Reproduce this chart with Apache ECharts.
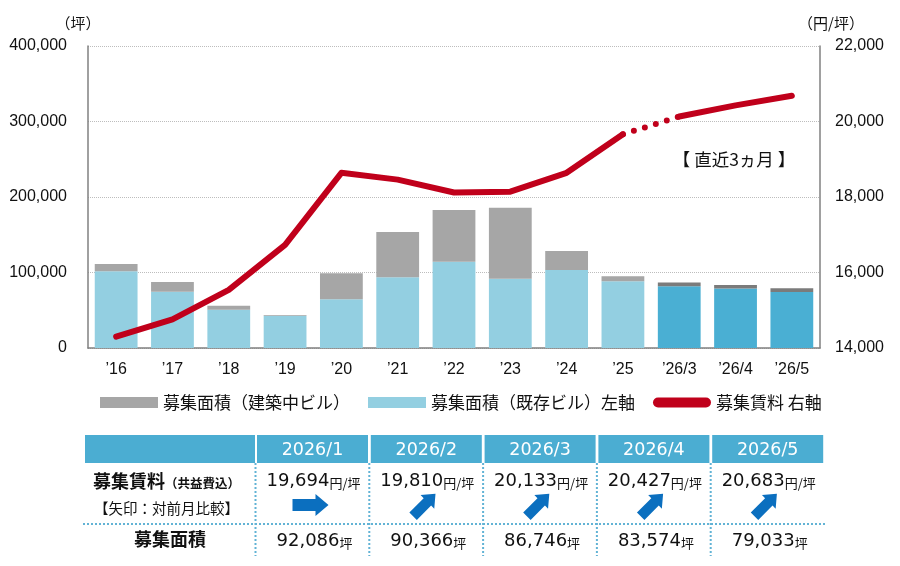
<!DOCTYPE html>
<html><head><meta charset="utf-8">
<script src="https://cdn.jsdelivr.net/npm/echarts@6/dist/echarts.min.js"></script>
<style>html,body{margin:0;padding:0;background:#fff}#c{width:900px;height:566px}</style>
</head><body><div id="c"></div>
<script>
// ---- data ----
const categories = ["’16","’17","’18","’19","’20","’21","’22","’23","’24","’25","’26/3","’26/4","’26/5"];
const existingArea = [101600, 74600, 50700, 42700, 64500, 93600, 114300, 91800, 103300, 88300, 81800, 78800, 74300];
const constructionArea = [9700, 12800, 5300, 1000, 34400, 60000, 68500, 94000, 25200, 6700, 4900, 4800, 4700];
const rent = [14300, 14760, 15540, 16730, 18640, 18460, 18120, 18140, 18640, 19660, 20133, 20427, 20683];
const recentStart = 10;
const leftTicks = {min: 0, max: 400000, interval: 100000};
const rightTicks = {min: 14000, max: 22000, interval: 2000};
const tableMonths = ["2026/1","2026/2","2026/3","2026/4","2026/5"];
const tableRent = [19694, 19810, 20133, 20427, 20683];
const tableArea = [92086, 90366, 86746, 83574, 79033];
const tableTrend = ["flat","up","up","up","up"];

// ---- styles ----
const C = {
  light: '#93cfe1', gray: '#a6a6a6', dark: '#4aafd3', darkGray: '#7b7b7b',
  red: '#c0001b', axis: '#808080', head: '#4badd2', arrow: '#0b6fbf', dot: '#62b3d5'
};
const JP = '"Noto Sans CJK JP", "Noto Sans", sans-serif';
const NUM = '"DejaVu Sans", "Noto Sans CJK JP", sans-serif';
const fmt = v => v.toLocaleString('en-US');

const chart = echarts.init(document.getElementById('c'), null, {renderer: 'canvas'});

const barExisting = existingArea.map((v, i) => ({value: v, itemStyle: {color: i >= recentStart ? C.dark : C.light}}));
const barConstr = constructionArea.map((v, i) => ({value: v, itemStyle: {color: i >= recentStart ? C.darkGray : C.gray}}));
const rentPast = rent.map((v, i) => i < recentStart ? v : null);
const rentRecent = rent.map((v, i) => i >= recentStart ? v : null);
const rentBridge = rent.map((v, i) => (i === recentStart - 1 || i === recentStart) ? v : null);

const RENT_NAME = '募集賃料 右軸';
const lineStyleBase = {color: C.red, width: 6, cap: 'round', join: 'round'};

// ---- table graphics ----
const g = [];
const tX = 85, labelW = 170, colX0 = 257, colStep = 113.8, colW = 111;
const headTop = 435, headH = 28;
const rentY = 479, arrowY = 505, sepY = 524, areaY = 539, tBottom = 556;
const valRich = {
  v: {font: '18px ' + NUM, fill: '#111', verticalAlign: 'bottom', lineHeight: 22},
  u: {font: '13px ' + JP, fill: '#111', verticalAlign: 'bottom', lineHeight: 19}
};
g.push({type: 'rect', shape: {x: tX, y: headTop, width: labelW, height: headH}, style: {fill: C.head}});
tableMonths.forEach((m, i) => {
  const x = colX0 + i * colStep;
  const cx = x + colW / 2;
  g.push({type: 'rect', shape: {x: x, y: headTop, width: colW, height: headH}, style: {fill: C.head}});
  g.push({type: 'text', x: cx, y: headTop + headH / 2 + 1, style: {text: m, fill: '#fff', font: '17.5px ' + NUM, align: 'center', verticalAlign: 'middle'}});
  g.push({type: 'text', x: cx + 1, y: rentY, style: {
    text: '{v|' + fmt(tableRent[i]) + '}{u|円/坪}', align: 'center', verticalAlign: 'middle', rich: valRich}});
  g.push({type: 'text', x: cx + 2, y: areaY, style: {
    text: '{v|' + fmt(tableArea[i]) + '}{u|坪}', align: 'center', verticalAlign: 'middle', rich: valRich}});
  const up = tableTrend[i] === 'up';
  g.push({type: 'polygon', x: cx - 2, y: arrowY, rotation: up ? Math.PI / 4 : 0, scaleX: up ? 0.88 : 1, scaleY: up ? 0.88 : 1,
    shape: {points: [[-18, -6], [5, -6], [5, -11], [18, 0], [5, 11], [5, 6], [-18, 6]]},
    style: {fill: C.arrow}});
  g.push({type: 'line', shape: {x1: x - 1.5, y1: headTop + headH, x2: x - 1.5, y2: tBottom}, style: {stroke: C.dot, lineWidth: 2, lineDash: [2, 2]}});
});
g.push({type: 'line', shape: {x1: 83, y1: sepY, x2: 826, y2: sepY}, style: {stroke: C.dot, lineWidth: 2, lineDash: [2, 2]}});
g.push({type: 'text', x: 93, y: rentY, style: {
  text: '{a|募集賃料}{b|（共益費込）}', align: 'left', verticalAlign: 'middle',
  rich: {a: {font: 'bold 18px ' + JP, fill: '#111', verticalAlign: 'bottom', lineHeight: 22}, b: {font: 'bold 12.5px ' + JP, fill: '#111', verticalAlign: 'bottom', lineHeight: 20}}}});
g.push({type: 'text', x: 94, y: 508, style: {text: '【矢印：対前月比較】', font: '14.5px ' + JP, fill: '#111', align: 'left', verticalAlign: 'middle'}});
g.push({type: 'text', x: tX + labelW / 2, y: areaY, style: {text: '募集面積', font: 'bold 18px ' + JP, fill: '#111', align: 'center', verticalAlign: 'middle'}});
// units & annotation
g.push({type: 'text', x: 78, y: 23, style: {text: '（坪）', font: '15px ' + JP, fill: '#111', align: 'center', verticalAlign: 'middle'}});
g.push({type: 'text', x: 831, y: 23, style: {text: '（円/坪）', font: '15px ' + JP, fill: '#111', align: 'center', verticalAlign: 'middle'}});
g.push({type: 'text', x: 734, y: 159, style: {text: '【 直近3ヵ月 】', font: '17.5px ' + JP, fill: '#111', align: 'center', verticalAlign: 'middle'}});

const option = {
  animation: false,
  backgroundColor: '#fff',
  grid: {left: 88, right: 80, top: 46, bottom: 218},
  legend: {
    left: 95, top: 389, itemGap: 18, itemWidth: 58, itemHeight: 11,
    textStyle: {fontFamily: JP, fontSize: 17, color: '#111'},
    data: [
      {name: '募集面積（建築中ビル）', icon: 'rect', itemStyle: {color: C.gray}},
      {name: '募集面積（既存ビル）左軸', icon: 'rect', itemStyle: {color: C.light}},
      {name: RENT_NAME, icon: 'path://M5,0 L53,0 A5,5 0 0 1 53,10 L5,10 A5,5 0 0 1 5,0 Z', itemStyle: {color: C.red}}
    ]
  },
  xAxis: {
    type: 'category', data: categories,
    axisLine: {lineStyle: {color: C.axis, width: 1.5}},
    axisTick: {show: false},
    axisLabel: {color: '#111', fontSize: 16, fontFamily: '"Liberation Sans", Arial, sans-serif', margin: 14}
  },
  yAxis: [
    {type: 'value', min: leftTicks.min, max: leftTicks.max, interval: leftTicks.interval,
     axisLine: {show: true, lineStyle: {color: C.axis, width: 1.5}}, axisTick: {show: false},
     splitLine: {lineStyle: {type: 'dotted', color: '#bdbdbd'}},
     axisLabel: {formatter: fmt, color: '#111', fontSize: 16, fontFamily: '"Liberation Sans", Arial, sans-serif', margin: 21}},
    {type: 'value', position: 'right', min: rightTicks.min, max: rightTicks.max, interval: rightTicks.interval,
     axisLine: {show: true, lineStyle: {color: C.axis, width: 1.5}}, axisTick: {show: false},
     splitLine: {show: false},
     axisLabel: {formatter: fmt, color: '#111', fontSize: 16, fontFamily: '"Liberation Sans", Arial, sans-serif', margin: 15}}
  ],
  series: [
    {name: '募集面積（既存ビル）左軸', type: 'bar', stack: 'area', yAxisIndex: 0, barCategoryGap: '24%', data: barExisting, itemStyle: {color: C.light}},
    {name: '募集面積（建築中ビル）', type: 'bar', stack: 'area', yAxisIndex: 0, barCategoryGap: '24%', data: barConstr, itemStyle: {color: C.gray}},
    {name: RENT_NAME, type: 'line', yAxisIndex: 1, data: rentPast, symbol: 'none', lineStyle: lineStyleBase, itemStyle: {color: C.red}, z: 5},
    {name: RENT_NAME, type: 'line', yAxisIndex: 1, data: rentRecent, symbol: 'none', lineStyle: lineStyleBase, itemStyle: {color: C.red}, z: 5},
    {name: RENT_NAME, type: 'line', yAxisIndex: 1, data: rentBridge, symbol: 'none',
     lineStyle: Object.assign({}, lineStyleBase, {type: [0, 11.5], dashOffset: 0}), itemStyle: {color: C.red}, z: 5}
  ],
  graphic: g
};
chart.setOption(option);
</script>
</body></html>
